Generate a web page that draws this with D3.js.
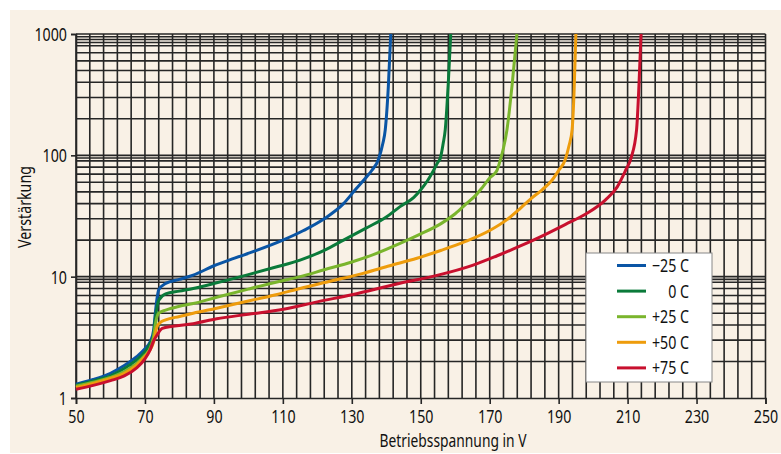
<!DOCTYPE html>
<html><head><meta charset="utf-8">
<script src="https://cdn.jsdelivr.net/npm/d3@7"></script>
<style>
html,body{margin:0;padding:0;background:#fff;}
svg{display:block;}
text{font-family:"Noto Sans","Open Sans",sans-serif;fill:#111;}
</style></head><body>
<svg id="chart" width="781" height="454"></svg>
<script>
// ---- data ----
const seriesNames = ["\u221225 C", "0 C", "+25 C", "+50 C", "+75 C"];
const seriesColors = ["#0a55a5", "#0a7a3a", "#7ab52d", "#ee9c0c", "#c8102e"];

const voltsM25 = [50,55,60,64,67.6,70,71.5,72.5,73,73.5,74,76,80,84,90,96,102,110,116,122,127.6,131,134,135.8,137.7,139,139.7,140.6,141.3];
const gainM25  = [1.3,1.42,1.6,1.85,2.19,2.55,2.9,3.6,5.0,6.6,7.8,8.8,9.5,10.3,12.3,14.2,16.3,20,24,30,40,52,65,75,92,125,162,370,1000];

const volts0 = [50,55,60,64,67.6,70,71.5,72.5,73,73.5,74,76,80,84,90.8,100,108,115,122,127.6,134,140,144,148,150,152,153.7,155,155.7,156.5,157.1,158,158.7];
const gain0  = [1.27,1.38,1.52,1.75,2.06,2.4,2.8,3.3,4.5,5.6,6.4,7.2,7.6,8.0,8.9,10.4,12,13.7,16.5,20,25,31,37.8,45,52,62,75,88,95,125,162,400,1000];

const voltsP25 = [50,55,60,64,67.6,70,71.5,72.5,73,73.5,74,76,80,84,90.8,100,108,115,122,130,137,144,150,156,160,163.4,166,168,170,172.1,173.1,174,175,176.5,177.9];
const gainP25  = [1.25,1.35,1.48,1.65,1.93,2.25,2.57,3.2,4.0,4.69,5.0,5.3,5.7,6.0,6.76,7.9,9.0,10,11.4,13.2,15.5,18.8,22.5,27.5,33,40.3,47,55,65,75,92,115,162,380,1000];

const voltsP50 = [50,55,60,64,67.6,70,71.5,72.5,73,73.5,74.5,76,80,84,90.8,100,108,115,124,133,141,148.9,156,163,170,175,178.9,182,185.2,188,190,191.9,193,193.9,194.5,195];
const gainP50  = [1.22,1.32,1.45,1.6,1.87,2.2,2.5,2.9,3.4,3.87,4.2,4.4,4.7,5.0,5.5,6.3,7.1,8.0,9.2,10.6,12.3,14.2,16.5,19.5,24,29.5,36.6,44,52,62,75,92,120,162,350,1000];

const voltsP75 = [50,55,60,64,67.6,70,71.5,72.5,73.5,75,78,84,90.8,100,110.2,120,130,144,155,165,172,178.9,185,192,198,203.6,207,209.4,211,212.6,213.3,213.9];
const gainP75  = [1.18,1.27,1.39,1.52,1.77,2.1,2.49,2.95,3.3,3.75,3.9,4.1,4.5,4.9,5.38,6.2,7.1,8.83,10.3,12.4,14.8,17.9,21.5,27,33,43,55,75,95,162,380,1000];

const seriesVolts = [voltsM25, volts0, voltsP25, voltsP50, voltsP75];
const seriesGain  = [gainM25, gain0, gainP25, gainP50, gainP75];

const xTicks = [50,70,90,110,130,150,170,190,210,230,250];
const yTicks = [1,10,100,1000];
const yTickLabels = ["1","10","100","1000"];
const xGridStep = 4;
const minorMultLower = [2,3,4,5,6,7,8,9,9.5];
const minorMultTop = [2,3,4,5,6,7,8,8.5,9,9.5];
const xTitle = "Betriebsspannung in V";
const yTitle = "Verstärkung";

// ---- layout ----
const svg = d3.select("#chart");
const W = 781, H = 454;
const L = 76, R = 765.5, T = 34, B = 398;
const SQ = 0.79; // horizontal squeeze to mimic a condensed face
const FS = 18;

svg.append("rect").attr("x",10).attr("y",10).attr("width",W-10).attr("height",H-11).attr("fill","#f9f1e6");

const x = d3.scaleLinear().domain([50,250]).range([L,R]);
const y = d3.scaleLog().domain([1,1000]).range([B,T]);

// grid
const g = svg.append("g");
const xGrid = d3.range(50, 250.001, xGridStep);
const yGrid = [];
[1,10,100].forEach((dec,i)=>{
  const mult = i===2 ? minorMultTop : minorMultLower;
  mult.forEach(m=>yGrid.push(dec*m));
});
[10,100,1000].forEach(v=>yGrid.push(v));

g.selectAll("line.gx").data(xGrid).join("line")
  .attr("x1",d=>x(d)).attr("x2",d=>x(d)).attr("y1",T).attr("y2",B)
  .attr("stroke","#262626").attr("stroke-width",1.6);
g.selectAll("line.gy").data(yGrid).join("line")
  .attr("x1",L).attr("x2",R).attr("y1",d=>y(d)).attr("y2",d=>y(d))
  .attr("stroke","#262626").attr("stroke-width",1.6);

// axes
const xAxis = d3.axisBottom(x).tickValues(xTicks).tickSize(6).tickPadding(5).tickFormat(d3.format("d"));
const yAxis = d3.axisLeft(y).tickValues(yTicks).tickSize(5).tickPadding(5).tickFormat((d,i)=>yTickLabels[i]);
const gx = svg.append("g").attr("transform",`translate(0,${B})`).call(xAxis);
const gy = svg.append("g").attr("transform",`translate(${L},0)`).call(yAxis);
[gx,gy].forEach(a=>{
  a.attr("font-family",null);
  a.select(".domain").attr("stroke","#262626").attr("stroke-width",1.6);
  a.selectAll(".tick line").attr("stroke","#262626").attr("stroke-width",1.6);
  a.selectAll(".tick text").attr("font-size",FS).attr("fill","#111")
   .style("font-family",'"Noto Sans","Open Sans",sans-serif');
});
gx.selectAll(".tick text").attr("y",null).attr("dy",null)
  .attr("transform",`translate(0,24.5) scale(${SQ},1)`);
gy.selectAll(".tick text").attr("x",null).attr("dy","0.36em")
  .attr("transform",`translate(-9,0) scale(${SQ},1)`);

function sqText(px,py,str,anchor,rot,fs){
  return svg.append("text")
    .attr("transform",`translate(${px},${py})${rot?` rotate(${rot})`:""} scale(${SQ},1)`)
    .attr("text-anchor",anchor).attr("font-size",fs||FS).text(str);
}
sqText(453,446.5,xTitle,"middle",0,17.5);
sqText(31,207,yTitle,"middle",-90);

// lines
const line = d3.line().x(d=>x(d[0])).y(d=>y(d[1])).curve(d3.curveMonotoneX);
seriesNames.forEach((name,i)=>{
  const pts = seriesVolts[i].map((v,j)=>[v, seriesGain[i][j]]);
  svg.append("path").datum(pts).attr("d",line).attr("fill","none")
    .attr("stroke",seriesColors[i]).attr("stroke-width",3).attr("stroke-linejoin","round");
});

// legend
const lg = svg.append("g");
lg.append("rect").attr("x",586).attr("y",253).attr("width",126).attr("height",129)
  .attr("fill","#fff").attr("stroke","#888").attr("stroke-width",1);
seriesNames.forEach((name,i)=>{
  const yy = 265.5 + i*25.6;
  lg.append("line").attr("x1",617).attr("x2",646).attr("y1",yy).attr("y2",yy)
    .attr("stroke",seriesColors[i]).attr("stroke-width",3);
  lg.append("text").attr("transform",`translate(689,${yy}) scale(${SQ},1)`)
    .attr("dy","0.36em").attr("text-anchor","end")
    .attr("font-size",FS).text(name);
});
</script>
</body></html>
